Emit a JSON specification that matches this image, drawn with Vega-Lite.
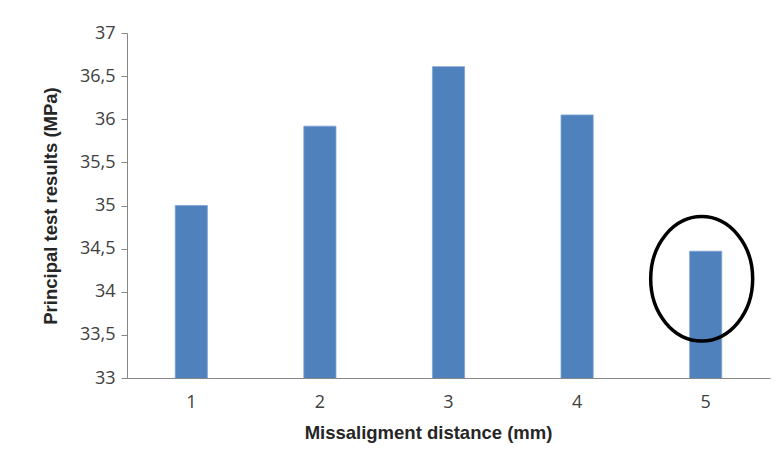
{
  "$schema": "https://vega.github.io/schema/vega-lite/v6.json",
  "width": 643,
  "height": 345,
  "autosize": {"type": "none"},
  "padding": {"left": 127, "top": 33, "right": 14, "bottom": 95},
  "background": "white",
  "config": {
    "view": {"stroke": null},
    "font": "Liberation Sans Narrow, Open Sans, sans-serif",
    "axis": {"labelFont": "Liberation Sans Narrow, Open Sans, sans-serif", "titleFont": "Liberation Sans, Open Sans, sans-serif"}
  },
  "datasets": {
    "bars": [
      {"distance": "1", "result": 35.0},
      {"distance": "2", "result": 35.92},
      {"distance": "3", "result": 36.61},
      {"distance": "4", "result": 36.05},
      {"distance": "5", "result": 34.47}
    ],
    "highlight": [
      {"distance": "5", "result": 34.15}
    ]
  },
  "layer": [
    {
      "data": {"name": "bars"},
      "mark": {"type": "bar", "color": "#4F81BD", "stroke": "#7FA3D3", "strokeWidth": 0.8, "clip": true},
      "encoding": {
        "x": {
          "field": "distance", "type": "ordinal",
          "scale": {"paddingInner": 0.75, "paddingOuter": 0.375},
          "axis": {
            "title": "Missaligment distance (mm)",
            "labelAngle": 0,
            "ticks": false,
            "tickSize": 0,
            "labelPadding": 15,
            "labelFontSize": 18,
            "labelColor": "#404040",
            "domainColor": "#868686",
            "domainWidth": 1,
            "titleFontSize": 18.5,
            "titleFontWeight": "bold",
            "titleColor": "#262626",
            "titlePadding": 12,
            "titleX": 301
          }
        },
        "y": {
          "field": "result", "type": "quantitative",
          "scale": {"domain": [33, 37], "zero": false, "nice": false},
          "axis": {
            "title": "Principal test results (MPa)",
            "values": [33, 33.5, 34, 34.5, 35, 35.5, 36, 36.5, 37],
            "format": ".1~f",
            "labelExpr": "replace(datum.label, '.', ',')",
            "grid": false,
            "tickSize": 6,
            "tickColor": "#868686",
            "domainColor": "#868686",
            "labelPadding": 6,
            "labelFontSize": 18,
            "labelColor": "#404040",
            "titleFontSize": 18.5,
            "titleFontWeight": "bold",
            "titleColor": "#262626",
            "titlePadding": 19
          }
        }
      }
    },
    {
      "data": {"name": "highlight"},
      "mark": {
        "type": "point",
        "shape": "M0,-1.22 A1,1.22 0 1,1 0,1.22 A1,1.22 0 1,1 0,-1.22 Z",
        "size": 10404,
        "filled": false,
        "stroke": "black",
        "strokeWidth": 3.5,
        "opacity": 1
      },
      "encoding": {
        "x": {"field": "distance", "type": "ordinal", "bandPosition": 0.375},
        "y": {"field": "result", "type": "quantitative"}
      }
    }
  ]
}
